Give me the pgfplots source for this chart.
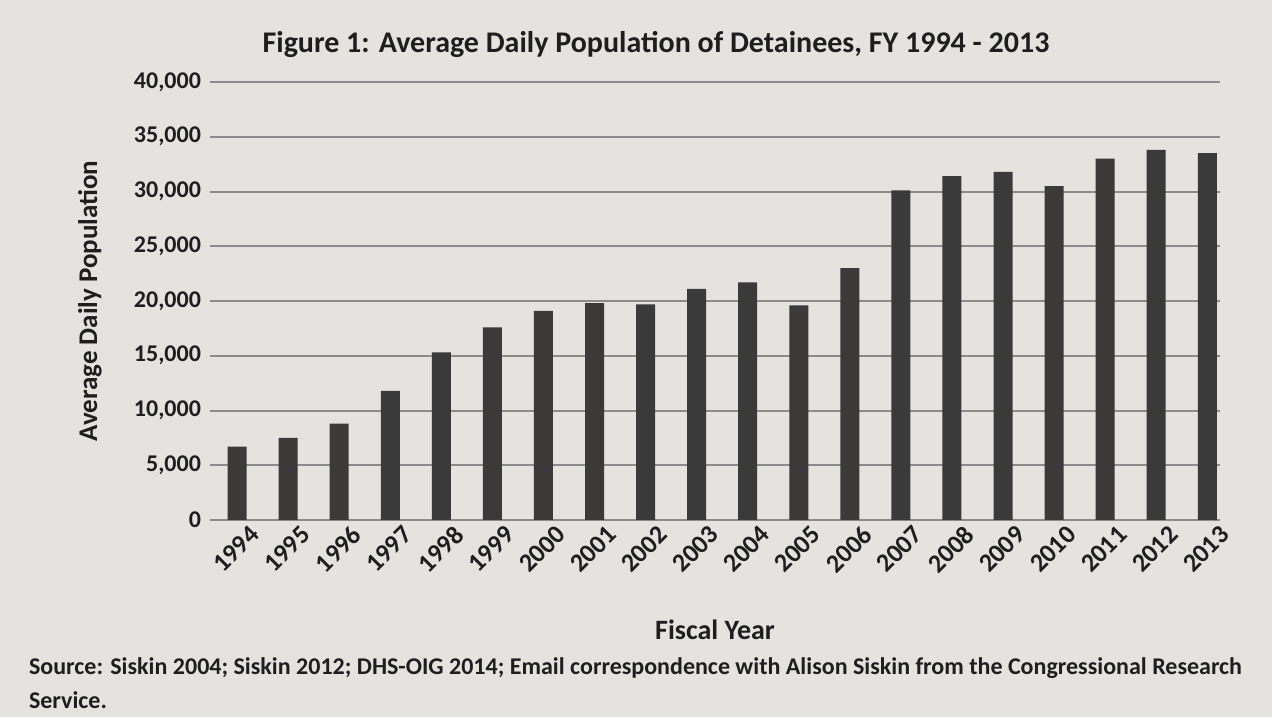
\documentclass[border=0pt]{standalone}
\usepackage{pgfplots}
\pgfplotsset{compat=1.18}
\usepackage{fontspec}
\setmainfont{Carlito}
\definecolor{barcol}{RGB}{58,58,58}
\definecolor{gridcol}{RGB}{140,140,140}
\definecolor{paper}{RGB}{228,227,224}
\definecolor{ink}{RGB}{30,30,30}

\begin{document}
\begin{tikzpicture}
% page: 1272x717 px at 0.5pt per px
\fill[paper] (0pt,0pt) rectangle (636pt,358.5pt);
\useasboundingbox (0pt,0pt) rectangle (636pt,358.5pt);

\begin{axis}[
    at={(105pt,98.5pt)}, anchor=south west,
    scale only axis,
    width=505pt, height=219pt,
    ymin=0, ymax=40000,
    xmin=-0.53, xmax=19.25,
    ytick={0,5000,...,40000},
    scaled y ticks=false,
    /pgf/number format/1000 sep={,},
    /pgf/number format/assume math mode=true,
    xtick={0,...,19},
    xticklabels={1994,1995,1996,1997,1998,1999,2000,2001,2002,2003,
                 2004,2005,2006,2007,2008,2009,2010,2011,2012,2013},
    xticklabel style={rotate=45, anchor=north east, font=\bfseries\fontsize{13}{15}\selectfont, text=ink, xshift=6pt, yshift=-2pt},
    yticklabel style={font=\bfseries\fontsize{12}{14}\selectfont, text=ink, xshift=-1pt},
    major tick length=0pt,
    ymajorgrids,
    grid style={gridcol, line width=1pt},
    axis line style={draw=none},
    axis x line*=bottom,
    axis y line*=left,
    xlabel={Fiscal Year},
    ylabel={Average Daily Population},
    xlabel style={font=\bfseries\fontsize{14}{16}\selectfont, text=ink, at={(axis description cs:0.5,-0.251)}, anchor=center},
    ylabel style={font=\bfseries\fontsize{13.5}{16}\selectfont, text=ink, at={(axis description cs:-0.119,0.5)}, anchor=center},
    clip=false,
]
\addplot[ybar, bar width=9.5pt, fill=barcol, draw=none] coordinates {
    (0, 6700)
    (1, 7500)
    (2, 8800)
    (3, 11800)
    (4, 15300)
    (5, 17600)
    (6, 19100)
    (7, 19800)
    (8, 19700)
    (9, 21100)
    (10, 21700)
    (11, 19600)
    (12, 23000)
    (13, 30100)
    (14, 31400)
    (15, 31800)
    (16, 30500)
    (17, 33000)
    (18, 33800)
    (19, 33500)
};
\end{axis}

\node[font=\bfseries\fontsize{15}{18}\selectfont, text=ink] at (328pt,336pt)
    {Figure 1: Average Daily Population of Detainees, FY 1994 - 2013};
\node[font=\bfseries\fontsize{12}{14}\selectfont, text=ink, anchor=west] at (11pt,24.5pt)
    {Source: Siskin 2004; Siskin 2012; DHS-OIG 2014; Email correspondence with Alison Siskin from the Congressional Research};
\node[font=\bfseries\fontsize{12}{14}\selectfont, text=ink, anchor=west] at (11pt,8.5pt)
    {Service.};
\end{tikzpicture}
\end{document}
